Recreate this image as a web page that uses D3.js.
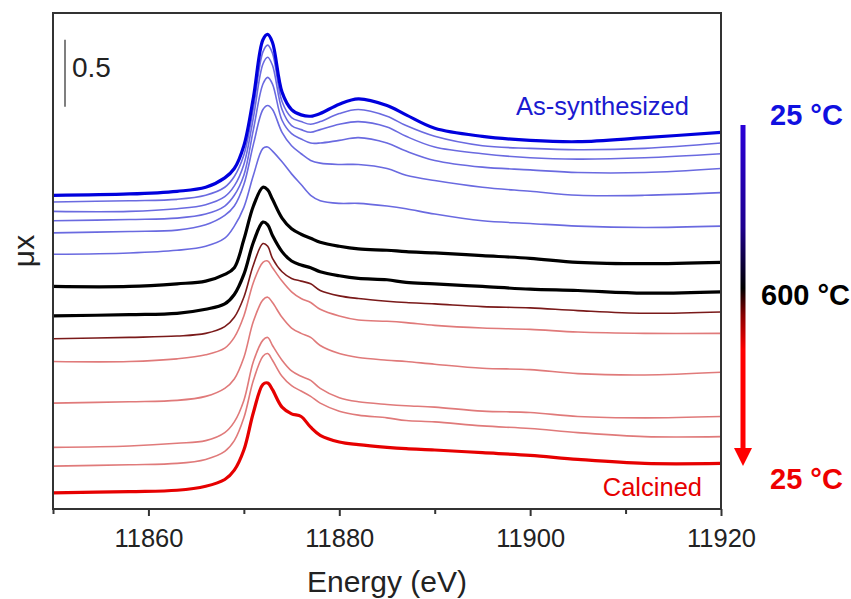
<!DOCTYPE html>
<html>
<head>
<meta charset="utf-8">
<script src="https://d3js.org/d3.v7.min.js"></script>
<style>
  body { margin: 0; background: #fff; }
  svg text { font-family: "Liberation Sans", Arial, sans-serif; }
</style>
</head>
<body>
<svg id="chart" width="851" height="599"></svg>
<script>
// energy grid (eV) the spectra were read at
var energy = [11850, 11858, 11863, 11866, 11868, 11869, 11870, 11871, 11872, 11872.5, 11873,
              11874, 11875, 11876, 11877, 11878, 11880, 11882, 11885, 11887, 11890, 11895,
              11900, 11905, 11912, 11920];

// stacked mu*x, heating (blue) -> 600 C (black) -> cooling (red)
var asSynth = [2.34, 2.35, 2.37, 2.40, 2.47, 2.54, 2.71, 3.07, 3.50, 3.54, 3.48, 3.11, 2.98, 2.94, 2.93, 2.95, 3.02, 3.06, 3.01, 2.94, 2.84, 2.78, 2.75, 2.74, 2.77, 2.81];
var heat1 = [2.29, 2.30, 2.31, 2.34, 2.40, 2.48, 2.64, 2.99, 3.41, 3.46, 3.40, 3.04, 2.92, 2.89, 2.87, 2.89, 2.95, 2.98, 2.93, 2.86, 2.78, 2.71, 2.69, 2.68, 2.69, 2.73];
var heat2 = [2.22, 2.22, 2.24, 2.27, 2.33, 2.41, 2.57, 2.92, 3.32, 3.37, 3.31, 2.98, 2.86, 2.83, 2.81, 2.83, 2.87, 2.89, 2.85, 2.78, 2.70, 2.65, 2.62, 2.61, 2.62, 2.65];
var heat3 = [2.15, 2.16, 2.17, 2.20, 2.26, 2.34, 2.49, 2.83, 3.17, 3.22, 3.17, 2.90, 2.80, 2.76, 2.73, 2.73, 2.75, 2.77, 2.73, 2.67, 2.60, 2.55, 2.53, 2.51, 2.51, 2.54];
var heat4 = [2.06, 2.07, 2.08, 2.12, 2.19, 2.26, 2.42, 2.72, 2.98, 3.01, 2.98, 2.81, 2.71, 2.65, 2.60, 2.58, 2.57, 2.57, 2.54, 2.49, 2.45, 2.40, 2.37, 2.34, 2.34, 2.36];
var heat5 = [1.90, 1.91, 1.93, 1.96, 2.02, 2.11, 2.25, 2.49, 2.69, 2.70, 2.67, 2.59, 2.50, 2.42, 2.34, 2.30, 2.28, 2.28, 2.26, 2.24, 2.20, 2.15, 2.13, 2.11, 2.10, 2.11];
var hot600a = [1.66, 1.66, 1.68, 1.70, 1.75, 1.80, 2.01, 2.26, 2.40, 2.38, 2.31, 2.17, 2.09, 2.05, 2.02, 1.99, 1.96, 1.94, 1.93, 1.92, 1.91, 1.89, 1.87, 1.84, 1.83, 1.84];
var hot600b = [1.44, 1.45, 1.46, 1.49, 1.53, 1.60, 1.75, 1.99, 2.14, 2.12, 2.04, 1.92, 1.85, 1.82, 1.80, 1.77, 1.74, 1.72, 1.71, 1.69, 1.68, 1.66, 1.64, 1.63, 1.61, 1.62];
var cool1 = [1.27, 1.28, 1.29, 1.31, 1.36, 1.43, 1.58, 1.82, 1.98, 1.96, 1.87, 1.77, 1.72, 1.70, 1.68, 1.63, 1.59, 1.57, 1.55, 1.54, 1.53, 1.51, 1.50, 1.48, 1.46, 1.47];
var cool2 = [1.10, 1.10, 1.12, 1.15, 1.20, 1.28, 1.44, 1.69, 1.84, 1.85, 1.80, 1.70, 1.62, 1.57, 1.54, 1.49, 1.44, 1.41, 1.40, 1.39, 1.37, 1.35, 1.34, 1.32, 1.31, 1.31];
var cool3 = [0.79, 0.80, 0.81, 0.84, 0.90, 0.97, 1.13, 1.40, 1.56, 1.58, 1.54, 1.43, 1.35, 1.31, 1.28, 1.22, 1.16, 1.13, 1.11, 1.10, 1.08, 1.05, 1.04, 1.01, 1.00, 1.02];
var cool4 = [0.46, 0.47, 0.49, 0.51, 0.57, 0.65, 0.81, 1.10, 1.26, 1.28, 1.22, 1.11, 1.03, 0.99, 0.96, 0.90, 0.83, 0.80, 0.78, 0.77, 0.76, 0.73, 0.72, 0.69, 0.68, 0.69];
var cool5 = [0.32, 0.33, 0.34, 0.37, 0.43, 0.51, 0.68, 0.96, 1.14, 1.16, 1.11, 0.99, 0.92, 0.88, 0.84, 0.79, 0.73, 0.70, 0.68, 0.66, 0.65, 0.62, 0.60, 0.57, 0.54, 0.54];
var calcined = [0.12, 0.13, 0.14, 0.17, 0.22, 0.29, 0.44, 0.72, 0.93, 0.94, 0.89, 0.76, 0.71, 0.69, 0.61, 0.55, 0.50, 0.48, 0.46, 0.45, 0.44, 0.42, 0.40, 0.37, 0.34, 0.34];

var majorTicks = [11860, 11880, 11900, 11920];
var minorTicks = [11850, 11870, 11890, 11910];

var plotLeft = 53, plotRight = 721, plotTop = 13, plotBottom = 509;

var svg = d3.select("#chart");

var x = d3.scaleLinear().domain([11850, 11920]).range([plotLeft, plotRight]);
var y = d3.scaleLinear().domain([0, 3.7]).range([plotBottom, plotTop]);

/*****************  Curves **********************/

var series = [
    {v: heat5, c: "#6a6ae0", w: 1.6},
    {v: heat4, c: "#6a6ae0", w: 1.6},
    {v: heat3, c: "#6a6ae0", w: 1.6},
    {v: heat2, c: "#6a6ae0", w: 1.6},
    {v: heat1, c: "#6a6ae0", w: 1.6},
    {v: cool5, c: "#e07a7a", w: 1.6},
    {v: cool4, c: "#e07a7a", w: 1.6},
    {v: cool3, c: "#e07a7a", w: 1.6},
    {v: cool2, c: "#e07a7a", w: 1.6},
    {v: cool1, c: "#7a1a1a", w: 1.6},
    {v: hot600b, c: "#000000", w: 3.2},
    {v: hot600a, c: "#000000", w: 3.2},
    {v: calcined, c: "#e60000", w: 3.2},
    {v: asSynth, c: "#0000dd", w: 3.2}
];

var line = d3.line()
    .x(function (d, i) { return x(energy[i]); })
    .y(function (d) { return y(d); })
    .curve(d3.curveCatmullRom.alpha(0.5));

svg.append("g")
    .selectAll("path")
    .data(series)
    .enter()
    .append("path")
    .attr("d", function (d) { return line(d.v); })
    .attr("fill", "none")
    .attr("stroke", function (d) { return d.c; })
    .attr("stroke-width", function (d) { return d.w; })
    .attr("stroke-linejoin", "round");

/*****************  Frame and axis **********************/

svg.append("rect")
    .attr("x", plotLeft)
    .attr("y", plotTop)
    .attr("width", plotRight - plotLeft)
    .attr("height", plotBottom - plotTop)
    .attr("fill", "none")
    .attr("stroke", "#333")
    .attr("stroke-width", 2);

var xAxis = svg.append("g")
    .attr("transform", "translate(0," + plotBottom + ")")
    .call(d3.axisBottom(x).tickValues(majorTicks).tickSize(7).tickSizeOuter(0).tickFormat(d3.format("d")));
xAxis.select(".domain").remove();
xAxis.selectAll("line").attr("stroke", "#333").attr("stroke-width", 2);
xAxis.selectAll("text")
    .attr("y", 38)
    .attr("dy", 0)
    .attr("fill", "#222")
    .style("font-size", "25.5px");

var xMinor = svg.append("g")
    .attr("transform", "translate(0," + plotBottom + ")")
    .call(d3.axisBottom(x).tickValues(minorTicks).tickSize(5).tickSizeOuter(0).tickFormat(""));
xMinor.select(".domain").remove();
xMinor.selectAll("line").attr("stroke", "#333").attr("stroke-width", 2);

svg.append("text")
    .attr("x", 387)
    .attr("y", 592)
    .attr("text-anchor", "middle")
    .attr("fill", "#222")
    .style("font-size", "30px")
    .text("Energy (eV)");

svg.append("text")
    .attr("transform", "translate(34,251) rotate(-90)")
    .attr("text-anchor", "middle")
    .attr("fill", "#222")
    .style("font-size", "30px")
    .text("\u03bcx");

/*****************  Scale bar **********************/

svg.append("line")
    .attr("x1", 65).attr("x2", 65)
    .attr("y1", y(3.5)).attr("y2", y(3.0))
    .attr("stroke", "#555")
    .attr("stroke-width", 1.5);

svg.append("text")
    .attr("x", 72)
    .attr("y", 77)
    .attr("fill", "#222")
    .style("font-size", "28px")
    .text("0.5");

/*****************  Labels **********************/

svg.append("text")
    .attr("x", 689)
    .attr("y", 115)
    .attr("text-anchor", "end")
    .attr("fill", "#1a1ad0")
    .style("font-size", "25.5px")
    .text("As-synthesized");

svg.append("text")
    .attr("x", 702)
    .attr("y", 496)
    .attr("text-anchor", "end")
    .attr("fill", "#e60000")
    .style("font-size", "25.5px")
    .text("Calcined");

/*****************  Temperature arrow **********************/

var grad = svg.append("defs").append("linearGradient")
    .attr("id", "tempGrad")
    .attr("gradientUnits", "userSpaceOnUse")
    .attr("x1", 0).attr("x2", 0)
    .attr("y1", 125).attr("y2", 465);
grad.append("stop").attr("offset", 0).attr("stop-color", "#2a00d8");
grad.append("stop").attr("offset", 0.3).attr("stop-color", "#1e0090");
grad.append("stop").attr("offset", 0.48).attr("stop-color", "#000000");
grad.append("stop").attr("offset", 0.56).attr("stop-color", "#8a0000");
grad.append("stop").attr("offset", 0.66).attr("stop-color", "#ff0000");
grad.append("stop").attr("offset", 1).attr("stop-color", "#ff0000");

svg.append("rect")
    .attr("x", 740.5)
    .attr("y", 125)
    .attr("width", 5)
    .attr("height", 325)
    .attr("fill", "url(#tempGrad)");

svg.append("path")
    .attr("d", "M734,448 L752,448 L743,466 Z")
    .attr("fill", "#ff0000");

svg.append("text")
    .attr("x", 770)
    .attr("y", 125)
    .attr("fill", "#1010e0")
    .style("font-size", "29px")
    .style("font-weight", "bold")
    .text("25 \u00b0C");

svg.append("text")
    .attr("x", 761)
    .attr("y", 305)
    .attr("fill", "#000")
    .style("font-size", "29px")
    .style("font-weight", "bold")
    .text("600 \u00b0C");

svg.append("text")
    .attr("x", 770)
    .attr("y", 489)
    .attr("fill", "#ee0000")
    .style("font-size", "29px")
    .style("font-weight", "bold")
    .text("25 \u00b0C");
</script>
</body>
</html>
